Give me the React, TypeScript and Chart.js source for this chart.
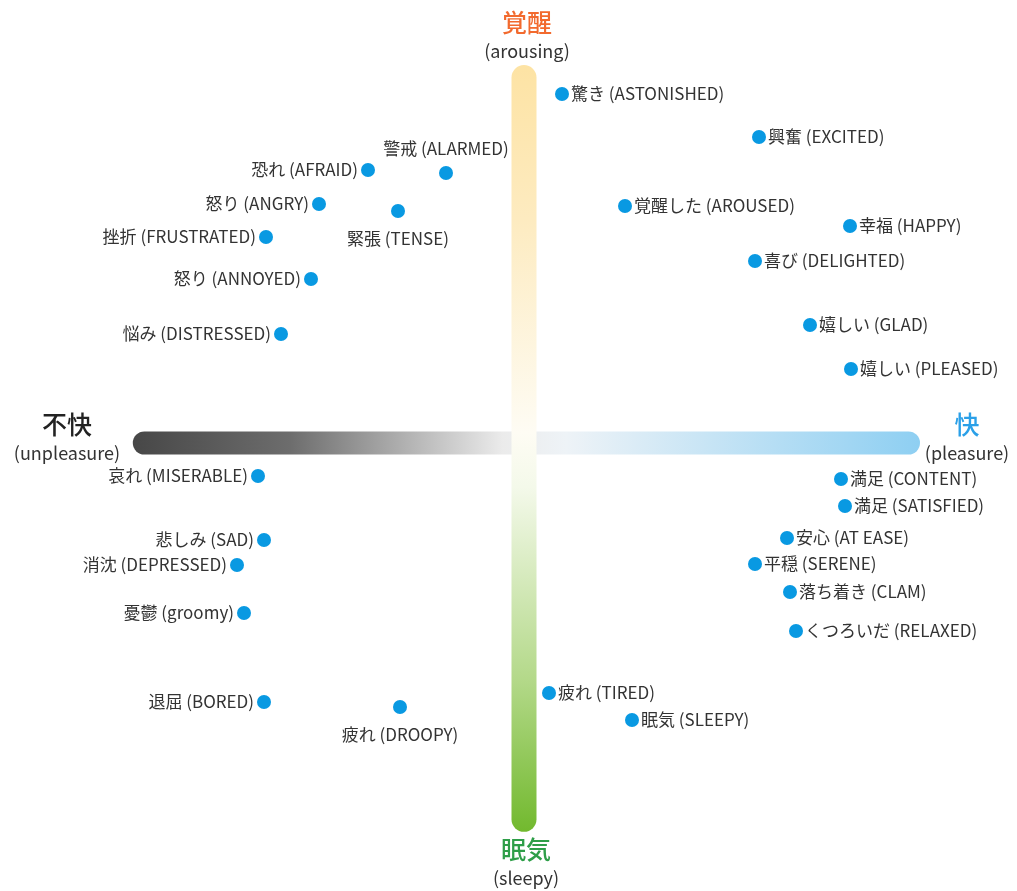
import React, { useEffect, useRef } from "react";
import { Chart, registerables } from "chart.js";

Chart.register(...registerables);

// Emotion labels (Russell's circumplex model)
const emotionLabels = [
  "驚き (ASTONISHED)", "興奮 (EXCITED)", "警戒 (ALARMED)", "恐れ (AFRAID)", "怒り (ANGRY)",
  "緊張 (TENSE)", "挫折 (FRUSTRATED)", "怒り (ANNOYED)", "悩み (DISTRESSED)", "覚醒した (AROUSED)",
  "幸福 (HAPPY)", "喜び (DELIGHTED)", "嬉しい (GLAD)", "嬉しい (PLEASED)", "哀れ (MISERABLE)",
  "悲しみ (SAD)", "消沈 (DEPRESSED)", "憂鬱 (groomy)", "退屈 (BORED)", "疲れ (DROOPY)",
  "疲れ (TIRED)", "眠気 (SLEEPY)", "満足 (CONTENT)", "満足 (SATISFIED)", "安心 (AT EASE)",
  "平穏 (SERENE)", "落ち着き (CLAM)", "くつろいだ (RELAXED)",
];
// pleasure (x) values
const pleasureValues = [
  0.95, 5.875, -1.95, -3.9, -5.125,
  -3.15, -6.45, -5.325, -6.075, 2.525,
  8.15, 5.775, 7.15, 8.175, -6.65,
  -6.5, -7.175, -7.0, -6.5, -3.1,
  0.625, 2.7, 7.925, 8.025, 6.575,
  5.775, 6.65, 6.8,
];
// arousal (y) values
const arousalValues = [
  8.725, 7.65, 6.75, 6.825, 5.975,
  5.8, 5.15, 4.1, 2.725, 5.925,
  5.425, 4.55, 2.95, 1.85, -0.825,
  -2.425, -3.05, -4.25, -6.475, -6.6,
  -6.25, -6.925, -0.9, -1.575, -2.375,
  -3.025, -3.725, -4.7,
];
// side of the dot where each label is written
const labelSide = [
  "r", "r", "a", "l", "l",
  "b", "l", "l", "l", "r",
  "r", "r", "r", "r", "l",
  "l", "l", "l", "l", "b",
  "r", "r", "r", "r", "r",
  "r", "r", "r",
];

// axis extents in data units
const pleasureAxis = [-9.78, 9.9];
const arousalAxis = [-9.72, 9.45];
const xRange = [-13.1, 12.325];
const yRange = [-11.2, 11.075];

const axisTitles = {
  top: ["覚醒", "(arousing)"],
  bottom: ["眠気", "(sleepy)"],
  left: ["不快", "(unpleasure)"],
  right: ["快", "(pleasure)"],
};

const FONT = "'Noto Sans CJK JP', 'Noto Sans', sans-serif";

const decorPlugin = {
  id: "decor",
  beforeDatasetsDraw(chart: any) {
    const ctx = chart.ctx as CanvasRenderingContext2D;
    const xs = chart.scales.x;
    const ys = chart.scales.y;
    const cx = xs.getPixelForValue(0);
    const cy = ys.getPixelForValue(0);

    // horizontal bar
    const hx0 = xs.getPixelForValue(pleasureAxis[0]);
    const hx1 = xs.getPixelForValue(pleasureAxis[1]);
    const hh = 23;
    const hg = ctx.createLinearGradient(hx0, 0, hx1, 0);
    hg.addColorStop(0, "#474747");
    hg.addColorStop(0.2, "#6d6d6d");
    hg.addColorStop(0.47, "#ebebeb");
    hg.addColorStop(0.55, "#eef3f7");
    hg.addColorStop(1, "#8ecff2");
    ctx.save();
    ctx.fillStyle = hg;
    ctx.beginPath();
    (ctx as any).roundRect(hx0, cy - hh / 2, hx1 - hx0, hh, hh / 2);
    ctx.fill();

    // vertical bar
    const vy0 = ys.getPixelForValue(arousalAxis[1]);
    const vy1 = ys.getPixelForValue(arousalAxis[0]);
    const vw = 25;
    const vg = ctx.createLinearGradient(0, vy0, 0, vy1);
    vg.addColorStop(0, "#fde3a4");
    vg.addColorStop(0.2, "#fdebc0");
    vg.addColorStop(0.48, "#fefcf4");
    vg.addColorStop(0.55, "#f4f9ea");
    vg.addColorStop(0.8, "#b4d98a");
    vg.addColorStop(1, "#72b92e");
    ctx.fillStyle = vg;
    ctx.beginPath();
    (ctx as any).roundRect(cx - vw / 2, vy0, vw, vy1 - vy0, vw / 2);
    ctx.fill();

    // axis titles
    ctx.textAlign = "center";
    ctx.textBaseline = "middle";
    const drawTitle = (pair: string[], x: number, y: number, color: string) => {
      ctx.fillStyle = color;
      ctx.font = `500 25px ${FONT}`;
      ctx.fillText(pair[0], x, y);
      ctx.fillStyle = "#333";
      ctx.font = `18px ${FONT}`;
      ctx.fillText(pair[1], x, y + 29);
    };
    drawTitle(axisTitles.top, cx + 3, 22, "#f26a2e");
    drawTitle(axisTitles.bottom, cx + 2, 849, "#2e9e48");
    drawTitle(axisTitles.left, 67, 424, "#222");
    drawTitle(axisTitles.right, 967, 424, "#2aa0e8");
    ctx.restore();
  },
  afterDatasetsDraw(chart: any) {
    const ctx = chart.ctx as CanvasRenderingContext2D;
    const meta = chart.getDatasetMeta(0);
    ctx.save();
    ctx.fillStyle = "#333";
    ctx.font = `17px ${FONT}`;
    ctx.textBaseline = "middle";
    meta.data.forEach((pt: any, i: number) => {
      const side = labelSide[i];
      const t = emotionLabels[i];
      const r = 7;
      if (side === "r") {
        ctx.textAlign = "left";
        ctx.fillText(t, pt.x + r + 2, pt.y);
      } else if (side === "l") {
        ctx.textAlign = "right";
        ctx.fillText(t, pt.x - r - 3, pt.y);
      } else if (side === "a") {
        ctx.textAlign = "center";
        ctx.fillText(t, pt.x, pt.y - 24);
      } else {
        ctx.textAlign = "center";
        ctx.fillText(t, pt.x, pt.y + 28);
      }
    });
    ctx.restore();
  },
};

export default function App() {
  const ref = useRef<HTMLCanvasElement>(null);
  useEffect(() => {
    document.body.style.margin = "0";
    const chart = new Chart(ref.current!, {
      type: "scatter",
      data: {
        datasets: [
          {
            data: pleasureValues.map((x, i) => ({ x, y: arousalValues[i] })),
            backgroundColor: "#0999e2",
            borderWidth: 0,
            pointRadius: 7,
            pointHoverRadius: 7,
          },
        ],
      },
      options: {
        animation: false,
        responsive: false,
        devicePixelRatio: 1,
        layout: { padding: 0, autoPadding: false },
        plugins: { legend: { display: false }, tooltip: { enabled: false } },
        scales: {
          x: { type: "linear", min: xRange[0], max: xRange[1], display: false },
          y: { type: "linear", min: yRange[0], max: yRange[1], display: false },
        },
      },
      plugins: [decorPlugin],
    });
    return () => chart.destroy();
  }, []);
  return (
    <div style={{ width: 1017, height: 891, background: "#fff" }}>
      <canvas ref={ref} width={1017} height={891} />
    </div>
  );
}
